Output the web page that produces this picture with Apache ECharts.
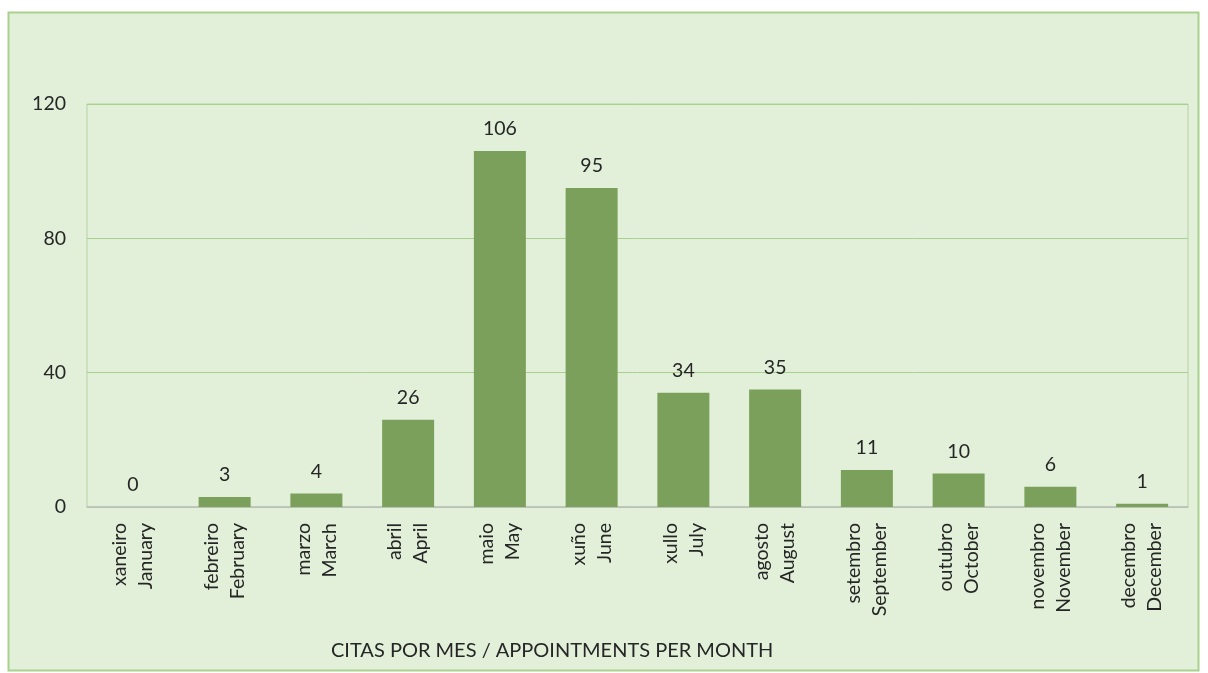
<!DOCTYPE html>
<html><head><meta charset="utf-8">
<script src="https://cdn.jsdelivr.net/npm/echarts@6/dist/echarts.min.js"></script>
<style>html,body{margin:0;padding:0;background:#fff}#c{width:1208px;height:673px}</style>
</head><body><div id="c"></div>
<script>
const categories = ["xaneiro\nJanuary","febreiro\nFebruary","marzo\nMarch","abril\nApril","maio\nMay","xuño\nJune","xullo\nJuly","agosto\nAugust","setembro\nSeptember","outubro\nOctober","novembro\nNovember","decembro\nDecember"];
const values = [0,3,4,26,106,95,34,35,11,10,6,1];
const yTicks = {min:0, max:120, interval:40};
const xTitle = "CITAS POR MES / APPOINTMENTS PER MONTH";

const font = "Lato, 'Open Sans', sans-serif";
const chart = echarts.init(document.getElementById('c'));
chart.setOption({
  backgroundColor: '#ffffff',
  graphic: [{
    type: 'rect', z: -10,
    shape: {x: 8.5, y: 12.5, width: 1190, height: 658},
    style: {fill: '#e2f0d9', stroke: '#a9d18e', lineWidth: 2}
  }],
  title: {
    text: xTitle, left: 326, top: 636,
    textStyle: {fontFamily: font, fontSize: 20, fontWeight: 'normal', color: '#262626'}
  },
  grid: {left: 87, right: 20, top: 104, bottom: 166, show: true, borderColor: '#b5d3a0', borderWidth: 1, backgroundColor: 'transparent'},
  xAxis: {
    type: 'category', data: categories,
    axisLine: {show: true, lineStyle: {color: '#bfbfbf', width: 1.5}},
    axisTick: {show: false},
    axisLabel: {rotate: 90, interval: 0, margin: 16, fontFamily: font, fontSize: 19.5, color: '#262626', lineHeight: 26}
  },
  yAxis: {
    type: 'value', min: yTicks.min, max: yTicks.max, interval: yTicks.interval,
    axisLine: {show: false}, axisTick: {show: false},
    axisLabel: {margin: 21, fontFamily: font, fontSize: 19.5, color: '#262626'},
    splitLine: {lineStyle: {color: '#a9d18e', width: 1}}
  },
  series: [{
    type: 'bar', data: values, barWidth: 52,
    itemStyle: {color: '#7ba05b'},
    label: {show: true, position: 'top', distance: 12, fontFamily: font, fontSize: 19.5, color: '#262626'}
  }]
});
</script></body></html>
